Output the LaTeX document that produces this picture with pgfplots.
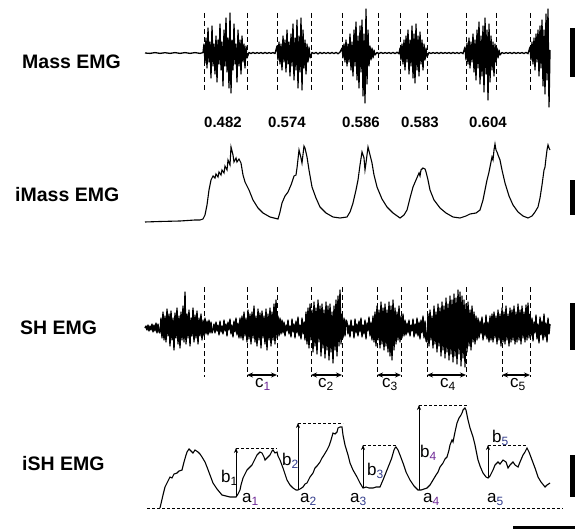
\documentclass[border=0pt]{standalone}
\usepackage{fontspec}
\setmainfont{Liberation Sans}
\usepackage{pgfplots}
\pgfplotsset{compat=1.18}
\usetikzlibrary{arrows.meta}

\definecolor{subpur}{RGB}{110,40,150}
\definecolor{subblu}{RGB}{50,60,140}

% label with coloured subscript, as in the figure
\newcommand{\lab}[3]{\fontsize{17}{20}\selectfont #1\raisebox{-0.35ex}{\fontsize{12}{14}\selectfont\color{#3}#2}}

\begin{document}
\begin{tikzpicture}
\begin{axis}[
    scale only axis,
    width=575pt, height=529pt,
    xmin=0, xmax=575, ymin=0, ymax=529,
    y dir=reverse,
    hide axis,
    clip=false,
]

% ---- Mass EMG (raw)
\addplot[black, line width=1.3pt, line join=round] coordinates {
(145,53)(150,53.4)(155,52.6)(160,53.4)(165,52.7)(170,53.4)(175,52.6)(180,53.4)(185,52.6)(190,53.4)(195,52.6)(200,53.4)(203,52.6)
(204,44)(205,63)(206,38)(207,68)(208,28)(209,62)(210,42)(211,78)(212,26)(213,66)(214,44)(215,74)(216,36)(217,82)(218,40)(219,64)(220,24)(221,70)(222,42)(223,86)(224,30)(225,66)(226,18)(227,72)(228,38)(229,88)(230,13)(231,93)(232,40)(233,70)(234,24)(235,64)(236,44)(237,82)(238,30)(239,66)(240,40)(241,74)(242,36)(243,62)(244,44)(245,68)(246,46)(247,58)
(249,52.5)(251,53.6)(253,52.4)(255,53.5)(257,52.6)(259,53.4)(261,52.5)(263,53.6)(265,52.4)(267,53.5)(269,52.6)(271,53.4)(273,52.5)(275,53.6)
(277,46)(278,60)(279,42)(280,64)(281,44)(282,70)(283,36)(284,62)(285,40)(286,72)(287,30)(288,64)(289,42)(290,76)(291,34)(292,66)(293,24)(294,80)(295,38)(296,70)(297,20)(298,88)(299,36)(300,72)(301,18)(302,90)(303,30)(304,68)(305,40)(306,74)(307,44)(308,62)(309,47)(310,58)
(312,52.5)(314,53.6)(316,52.4)(318,54)(320,52.4)(322,53.6)(324,52.5)(326,53.5)(328,52.5)(330,53.6)(332,52.4)(334,53.7)(336,52.3)(338,53.8)(340,52.2)
(342,48)(343,58)(344,44)(345,62)(346,40)(347,66)(348,44)(349,62)(350,34)(351,70)(352,42)(353,76)(354,30)(355,66)(356,22)(357,80)(358,36)(359,88)(360,26)(361,72)(362,20)(363,96)(364,34)(365,103)(366,9)(367,84)(368,30)(369,66)(370,46)(371,60)(372,48)(373,58)(374,50)(375,55)
(377,52.5)(379,53.6)(381,52.4)(383,53.5)(385,52.6)(387,53.4)(389,52.5)(391,53.6)(393,52.3)(395,53.7)(397,52.2)(399,53.8)
(400,48)(401,60)(402,44)(403,64)(404,40)(405,70)(406,36)(407,62)(408,30)(409,74)(410,40)(411,66)(412,26)(413,78)(414,34)(415,83)(416,24)(417,70)(418,36)(419,76)(420,32)(421,64)(422,40)(423,70)(424,44)(425,60)(426,48)(427,57)
(429,52.5)(431,53.5)(433,52.6)(435,53.4)(437,52.5)(439,53.6)(441,52.4)(443,53.5)(445,52.6)(447,53.4)(449,52.5)(451,53.6)(453,52.4)(455,53.5)(457,52.5)(459,53.6)(461,52.3)(463,53.7)
(465,47)(466,60)(467,43)(468,64)(469,38)(470,68)(471,42)(472,62)(473,34)(474,72)(475,40)(476,80)(477,30)(478,68)(479,22)(480,84)(481,36)(482,76)(483,26)(484,92)(485,18)(486,74)(487,30)(488,100)(489,24)(490,82)(491,36)(492,70)(493,42)(494,76)(495,44)(496,62)(497,48)(498,58)(499,50)(500,55)
(502,52.5)(504,53.5)(506,52.6)(508,53.4)(510,52.5)(512,53.6)(514,52.4)(516,53.5)(518,52.6)(520,53.4)(522,52.5)(524,53.6)(526,52.3)(528,53.7)
(530,47)(531,60)(532,42)(533,64)(534,38)(535,70)(536,34)(537,62)(538,30)(539,76)(540,26)(541,68)(542,20)(543,86)(544,30)(545,94)(546,14)(547,80)(548,9)(549,107)(550,50)
};

% ---- iMass EMG (integrated)
\addplot[black, line width=1.1pt] coordinates {
(145,222)(160,221.5)(180,221)(195,220)(200,220)(203,219)(205,215)(207,205)(209,190)(211,180)(213,176)(215,178)(216,174)(218,177)(219,172)(221,175)(222,170)(224,173)(225,166)(227,170)(228,160)(230,165)(231,147)(233,155)(234,162)(236,158)(237,162)(239,159)(241,163)(243,175)(245,182)(249,190)(253,200)(258,208)(263,213)(270,217)(278,219)
(280,212)(282,203)(285,196)(288,192)(291,185)(294,176)(296,175)(297,168)(299,150)(301,158)(302,163)(304,146)(305,148)(307,157)(309,170)(312,187)(316,198)(320,207)(326,213)(333,217)(340,218)(347,217)
(350,212)(353,203)(356,190)(358,180)(360,165)(362,152)(364,158)(365,170)(366,163)(368,147)(370,155)(372,163)(374,175)(377,187)(382,199)(387,207)(393,213)(400,218)
(404,215)(407,210)(410,198)(413,187)(416,180)(419,173)(420,176)(421,170)(423,168)(425,169)(426,172)(428,180)(430,190)(434,200)(440,208)(446,213)(453,217)(460,218)(463,217)
(466,216)(470,214)(476,213)(480,210)(483,200)(485,190)(487,180)(489,172)(490,167)(492,157)(493,160)(494,150)(495,144)(496,150)(497,152)(498,155)(500,160)(502,170)(505,183)(509,196)(513,205)(518,212)(523,216)(528,218)
(532,216)(535,212)(538,207)(540,198)(542,185)(544,170)(545,167)(546,158)(547,150)(548,145)(549,148)(550,150)
};

% ---- SH EMG (raw)
\addplot[black, line width=1.35pt, line join=round] coordinates {
(145,328)(146,326)(147,330)(148,325)(149,331)(150,326)(151,330)(152,324)(153,332)(154,325)(155,331)(156,323)(157,333)(158,324)(159,332)
(160,333)(161,318)(162,338)(163,312)(164,340)(165,316)(166,342)(167,309)(168,336)(169,314)(170,346)(171,311)(172,340)(173,318)(174,350)(175,313)(176,338)(177,308)(178,344)(179,316)(180,348)(181,312)(182,340)(183,306)(184,342)(185,292)(186,344)(187,314)(188,338)(189,310)(190,346)(191,318)(192,336)(193,308)(194,342)(195,315)(196,338)(197,311)(198,344)(199,318)(200,336)(201,314)(202,340)(203,320)(204,336)(205,318)(206,334)(207,321)(208,335)(209,320)(210,333)(211,322)(212,333)
(213,330)(214,324)(215,333)(216,322)(217,331)(218,325)(219,335)(220,321)(221,332)(222,326)(223,334)(224,320)(225,331)(226,324)(227,336)(228,322)(229,330)(230,319)(231,334)(232,325)(233,337)(234,321)(235,332)(236,318)(237,335)(238,323)(239,338)
(240,318)(241,338)(242,316)(243,340)(244,312)(245,336)(246,318)(247,342)(248,310)(249,339)(250,314)(251,344)(252,312)(253,338)(254,306)(255,342)(256,316)(257,346)(258,309)(259,340)(260,313)(261,348)(262,311)(263,338)(264,316)(265,344)(266,309)(267,350)(268,314)(269,340)(270,308)(271,346)(272,312)(273,340)(274,304)(275,344)(276,300)(277,338)(278,316)(279,336)(280,318)(281,334)(282,320)
(283,333)(284,322)(285,336)(286,325)(287,331)(288,320)(289,334)(290,326)(291,337)(292,319)(293,332)(294,324)(295,338)(296,321)(297,333)(298,317)(299,336)(300,325)(301,339)(302,318)(303,334)(304,322)(305,340)
(306,312)(307,344)(308,308)(309,348)(310,304)(311,340)(312,310)(313,352)(314,302)(315,346)(316,308)(317,354)(318,300)(319,342)(320,306)(321,356)(322,304)(323,348)(324,310)(325,358)(326,302)(327,350)(328,306)(329,360)(330,304)(331,352)(332,312)(333,363)(334,306)(335,350)(336,300)(337,356)(338,296)(339,346)(340,290)(341,344)(342,314)(343,338)(344,318)(345,336)(346,320)
(347,322)(348,334)(349,325)(350,337)(351,320)(352,331)(353,326)(354,338)(355,319)(356,333)(357,324)(358,336)(359,321)(360,332)(361,318)(362,337)(363,325)(364,334)(365,320)(366,339)(367,323)(368,331)(369,317)(370,336)(371,322)(372,340)(373,316)
(374,342)(375,312)(376,346)(377,306)(378,340)(379,310)(380,348)(381,302)(382,344)(383,308)(384,350)(385,304)(386,346)(387,310)(388,352)(389,302)(390,356)(391,306)(392,360)(393,300)(394,350)(395,308)(396,344)(397,312)(398,340)(399,306)(400,342)(401,316)(402,338)(403,314)(404,336)(405,320)(406,335)
(407,323)(408,333)(409,320)(410,336)(411,325)(412,331)(413,319)(414,337)(415,324)(416,334)(417,318)(418,336)(419,322)(420,339)(421,320)(422,333)(423,316)(424,338)(425,321)(426,341)
(427,342)(428,314)(429,346)(430,310)(431,340)(432,316)(433,348)(434,306)(435,344)(436,312)(437,352)(438,304)(439,346)(440,308)(441,356)(442,302)(443,350)(444,306)(445,358)(446,298)(447,352)(448,304)(449,360)(450,296)(451,354)(452,300)(453,362)(454,294)(455,356)(456,298)(457,364)(458,290)(459,354)(460,292)(461,366)(462,296)(463,358)(464,300)(465,367)(466,304)(467,352)(468,302)(469,346)(470,310)(471,350)(472,306)(473,342)(474,312)(475,344)(476,316)(477,340)(478,318)
(479,338)(480,321)(481,334)(482,317)(483,340)(484,323)(485,336)(486,315)(487,339)(488,322)(489,342)(490,316)
(491,340)(492,314)(493,342)(494,312)(495,338)(496,316)(497,344)(498,310)(499,340)(500,314)(501,346)(502,308)(503,342)(504,312)(505,344)(506,306)(507,340)(508,314)(509,346)(510,308)(511,342)(512,310)(513,340)(514,306)(515,344)(516,312)(517,342)(518,304)(519,340)(520,310)(521,344)(522,306)(523,338)(524,312)(525,342)(526,305)(527,340)(528,303)(529,338)(530,314)
(531,336)(532,318)(533,341)(534,322)(535,333)(536,315)(537,339)(538,324)(539,343)(540,317)(541,335)(542,321)(543,340)(544,314)(545,337)(546,323)(547,342)(548,318)(549,334)(550,324)
};

% ---- iSH EMG (integrated)
\addplot[black, line width=1.1pt] coordinates {
(160,508)(163,495)(165,487)(167,483)(170,477)(172,478)(174,474)(177,473)(179,471)(182,470)(184,462)(186,455)(187,452)(189,449)(191,451)(193,453)(195,450)(198,452)(200,454)(202,457)(205,462)(207,467)(210,475)(213,483)(217,489)(222,495)(226,496)(230,497)(233,497)(236,497)
(238,494)(240,490)(241,485)(243,478)(245,474)(247,470)(249,468)(252,465)(254,461)(257,455)(260,452)(262,453)(264,457)(265,460)(267,458)(270,455)(272,451)(273,450)(275,453)(277,452)(278,456)(280,460)(283,468)(287,480)(290,485)(293,488)(296,490)(298,490)
(300,489)(303,487)(305,484)(307,483)(310,477)(313,473)(315,468)(317,466)(320,462)(322,458)(324,455)(327,450)(329,446)(331,440)(333,433)(335,434)(337,432)(338,428)(340,427)(342,427)(343,435)(345,445)(348,455)(350,463)(353,470)(357,477)(360,483)(363,488)
(366,487)(369,488)(373,488)(376,487)(380,487)(383,480)(385,475)(387,470)(389,465)(391,460)(392,457)(394,450)(395,448)(396,447)(398,450)(400,455)(403,463)(406,472)(410,480)(414,486)(418,490)
(421,490)(424,489)(427,488)(430,485)(433,480)(436,475)(438,472)(440,467)(443,463)(445,459)(447,457)(449,450)(450,445)(452,440)(453,442)(455,432)(457,423)(459,418)(461,415)(462,413)(463,410)(465,408)(466,410)(468,420)(470,428)(473,437)(475,445)(477,455)(478,460)(480,466)(483,473)(486,477)(488,478)
(490,476)(493,470)(495,465)(498,462)(500,464)(503,460)(506,462)(508,468)(510,465)(513,462)(515,465)(518,467)(520,462)(523,455)(525,452)(527,448)(529,452)(532,460)(535,468)(538,477)(541,482)(545,487)(547,485)(550,483)
};

% ---- dashed markers, Mass EMG
\foreach \xx in {204,247,277,311,342,378,400,427,466,496,530} {
  \edef\tmp{\noexpand\draw[black, line width=1pt, dash pattern=on 5pt off 3pt] (axis cs:\xx,13) -- (axis cs:\xx,90);}\tmp
}
% ---- dashed markers, SH EMG
\foreach \xx in {204,247,277,311,342,377,401,427,466,502,530} {
  \edef\tmp{\noexpand\draw[black, line width=1pt, dash pattern=on 5pt off 3pt] (axis cs:\xx,287) -- (axis cs:\xx,377);}\tmp
}

% ---- burst durations
\foreach \xa/\xb in {247/277,311/342,377/401,427/466,502/530} {
  \edef\tmp{\noexpand\draw[black, line width=1.3pt, {Stealth[length=6pt,width=5pt]}-{Stealth[length=6pt,width=5pt]}] (axis cs:\xa,375) -- (axis cs:\xb,375);}\tmp
}
\node[anchor=base west, inner sep=0] at (axis cs:255,387) {\lab{c}{1}{subpur}};
\node[anchor=base west, inner sep=0] at (axis cs:318,387) {\lab{c}{2}{black}};
\node[anchor=base west, inner sep=0] at (axis cs:382,387) {\lab{c}{3}{black}};
\node[anchor=base west, inner sep=0] at (axis cs:440,387) {\lab{c}{4}{black}};
\node[anchor=base west, inner sep=0] at (axis cs:510,387) {\lab{c}{5}{black}};

% ---- iSH baseline
\draw[black, line width=0.9pt, dash pattern=on 3pt off 2pt] (axis cs:147,508) -- (axis cs:563,508);

% ---- iSH amplitudes
\foreach \xa/\ya/\yb/\xc in {236/497/448/277, 298/490/423/343, 363/488/445/397, 419/490/405/467, 488/478/445/527} {
  \edef\tmp{\noexpand\draw[black, line width=0.7pt, -{Stealth[length=5pt,width=4pt]}] (axis cs:\xa,\ya) -- (axis cs:\xa,\yb);
    \noexpand\draw[black, line width=0.9pt, dash pattern=on 3pt off 2pt] (axis cs:\xa,\yb) -- (axis cs:\xc,\yb);}\tmp
}
\node[anchor=base west, inner sep=0] at (axis cs:221,482) {\lab{b}{1}{black}};
\node[anchor=base west, inner sep=0] at (axis cs:282,465) {\lab{b}{2}{subblu}};
\node[anchor=base west, inner sep=0] at (axis cs:367,475) {\lab{b}{3}{subblu}};
\node[anchor=base west, inner sep=0] at (axis cs:420,457) {\lab{b}{4}{subpur}};
\node[anchor=base west, inner sep=0] at (axis cs:492,442) {\lab{b}{5}{subblu}};
\node[anchor=base west, inner sep=0] at (axis cs:242,502) {\lab{a}{1}{subpur}};
\node[anchor=base west, inner sep=0] at (axis cs:300,502) {\lab{a}{2}{subblu}};
\node[anchor=base west, inner sep=0] at (axis cs:350,502) {\lab{a}{3}{subblu}};
\node[anchor=base west, inner sep=0] at (axis cs:423,502) {\lab{a}{4}{subpur}};
\node[anchor=base west, inner sep=0] at (axis cs:487,502) {\lab{a}{5}{subblu}};

% ---- ratios
\foreach \xx/\tt in {223/0.482,287/0.574,361/0.586,420/0.583,488/0.604} {
  \edef\tmp{\noexpand\node[anchor=base, inner sep=0, font=\noexpand\fontsize{15}{18}\noexpand\selectfont\noexpand\bfseries] at (axis cs:\xx,128) {\tt};}\tmp
}

% ---- trace names
\node[anchor=base west, inner sep=0, font=\fontsize{19.5}{22}\selectfont\bfseries] at (axis cs:22,69) {Mass EMG};
\node[anchor=base west, inner sep=0, font=\fontsize{19.5}{22}\selectfont\bfseries] at (axis cs:15,202) {iMass EMG};
\node[anchor=base west, inner sep=0, font=\fontsize{19.5}{22}\selectfont\bfseries] at (axis cs:20,334) {SH EMG};
\node[anchor=base west, inner sep=0, font=\fontsize{19.5}{22}\selectfont\bfseries] at (axis cs:22,470) {iSH EMG};

% ---- scale bars
\fill[black] (axis cs:570,28) rectangle (axis cs:575,77);
\fill[black] (axis cs:570,180) rectangle (axis cs:575,215);
\fill[black] (axis cs:570,303) rectangle (axis cs:575,350);
\fill[black] (axis cs:570,455) rectangle (axis cs:575,497);
\fill[black] (axis cs:513,526) rectangle (axis cs:575,529);
\end{axis}
\pgfresetboundingbox
\path (0,0) rectangle (575pt,529pt);
\end{tikzpicture}
\end{document}
